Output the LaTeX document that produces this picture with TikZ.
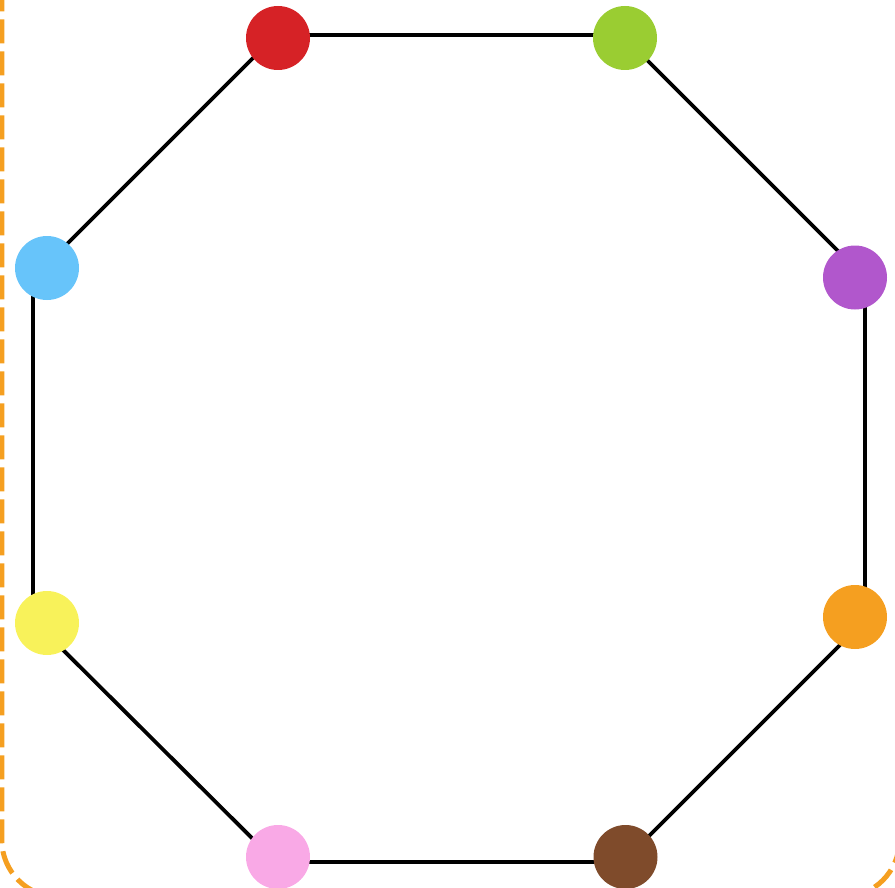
\documentclass[tikz,border=0pt]{standalone}
\definecolor{cred}{HTML}{D62226}
\definecolor{cgreen}{HTML}{9ACD32}
\definecolor{cpurple}{HTML}{B157CC}
\definecolor{corange}{HTML}{F59F20}
\definecolor{cbrown}{HTML}{7F4B2B}
\definecolor{cpink}{HTML}{F9A9E6}
\definecolor{cyellow}{HTML}{F8F25A}
\definecolor{cblue}{HTML}{67C4FA}
\tikzset{
  dot/.style={circle,inner sep=0pt,minimum size=64pt,fill=#1,draw=none},
  edge/.style={line width=3.8pt,black},
  frame/.style={draw=corange,line width=5pt,dash pattern=on 24pt off 8pt,rounded corners=57pt}
}
\begin{document}
\begin{tikzpicture}[x=1pt,y=-1pt]
\useasboundingbox (0,0) rectangle (895,888);
\clip (0,0) rectangle (895,888);
\draw[frame] (1.8,-12.7) -- (1.8,897) -- (899.5,897) -- (899.5,-12.7);
\coordinate (v1) at (276,35);
\coordinate (v2) at (622,35);
\coordinate (v3) at (865,278);
\coordinate (v4) at (865,620);
\coordinate (v5) at (623,862);
\coordinate (v6) at (276,862);
\coordinate (v7) at (33,620);
\coordinate (v8) at (33,278);
\draw[edge,line join=miter] (v1) -- (v2) -- (v3) -- (v4) -- (v5) -- (v6) -- (v7) -- (v8) -- cycle;
\node[dot=cred] (red) at (278,38) {};
\node[dot=cgreen] (green) at (625,38) {};
\node[dot=cpurple] (purple) at (855,277.5) {};
\node[dot=corange] (orange) at (855,617) {};
\node[dot=cbrown] (brown) at (625.5,857) {};
\node[dot=cpink] (pink) at (278,857) {};
\node[dot=cyellow] (yellow) at (47,623) {};
\node[dot=cblue] (blue) at (47,268) {};
\end{tikzpicture}
\end{document}
